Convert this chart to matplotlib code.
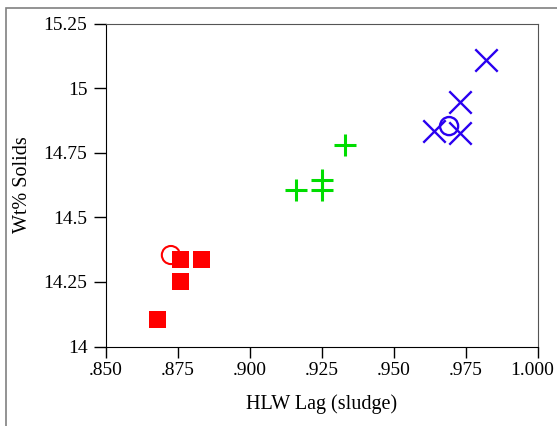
import matplotlib.pyplot as plt
import matplotlib.transforms as mtransforms
from matplotlib.patches import Rectangle

plt.rcParams['font.family'] = ['Liberation Serif', 'DejaVu Serif']

# group 1 (red squares) and its mean (open circle)
red_x = [0.868, 0.876, 0.876, 0.8835]
red_y = [14.105, 14.335, 14.25, 14.335]
red_mean = (0.8727, 14.354)

# group 2 (green pluses)
green_x = [0.916, 0.925, 0.925, 0.933]
green_y = [14.606, 14.606, 14.644, 14.78]

# group 3 (blue crosses) and its mean
blue_x = [0.982, 0.973, 0.964, 0.973]
blue_y = [15.108, 14.946, 14.834, 14.828]
blue_mean = (0.9693, 14.853)

x_ticks = [0.850, 0.875, 0.900, 0.925, 0.950, 0.975, 1.000]
x_labels = ['.850', '.875', '.900', '.925', '.950', '.975', '1.000']
y_ticks = [14, 14.25, 14.5, 14.75, 15, 15.25]
y_labels = ['14', '14.25', '14.5', '14.75', '15', '15.25']

fig = plt.figure(figsize=(5.57, 4.26), dpi=100)
ax = fig.add_axes([105.5 / 557, 1 - 346.5 / 426, 432 / 557, 323 / 426])

# outer grey frame
fig.patches.append(Rectangle((6 / 557, -0.1), 1.1, (426 - 8) / 426 + 0.1,
                             transform=fig.transFigure, fill=False,
                             edgecolor='#808080', linewidth=1.2))

ax.scatter(red_x, red_y, marker='s', s=150, color='#ff0000', edgecolors='none', zorder=3)
ax.scatter([red_mean[0]], [red_mean[1]], marker='o', s=170, facecolors='none',
           edgecolors='#ff0000', linewidths=1.5, zorder=3)
ax.scatter(green_x, green_y, marker='+', s=260, color='#00dd00', linewidths=2.2, zorder=3)
ax.scatter(blue_x, blue_y, marker='x', s=260, color='#2a00f0', linewidths=1.7, zorder=3)
ax.scatter([blue_mean[0]], [blue_mean[1]], marker='o', s=170, facecolors='none',
           edgecolors='#2a00f0', linewidths=1.7, zorder=4)

ax.set_xlim(0.850, 1.000)
ax.set_ylim(14, 15.25)
ax.set_xticks(x_ticks)
ax.set_xticklabels(x_labels)
ax.set_yticks(y_ticks)
ax.set_yticklabels(y_labels)
ax.tick_params(direction='out', width=1, labelsize=14, colors='black')
ax.tick_params(axis='x', length=8, pad=3)
ax.tick_params(axis='y', length=9, pad=4)

# last x label sits at the image edge; nudge it left so it stays visible
last = ax.get_xticklabels()[-1]
last.set_transform(last.get_transform() +
                   mtransforms.ScaledTranslation(-5 / 100, 0, fig.dpi_scale_trans))

ax.spines['left'].set_color('black')
ax.spines['bottom'].set_color('black')
ax.spines['top'].set_color('#555555')
ax.spines['right'].set_color('#555555')

ax.set_xlabel('HLW Lag (sludge)', fontsize=14.5, labelpad=11)
ax.set_ylabel('Wt% Solids', fontsize=14.5, labelpad=8)

fig.savefig('out.png', dpi=100)
